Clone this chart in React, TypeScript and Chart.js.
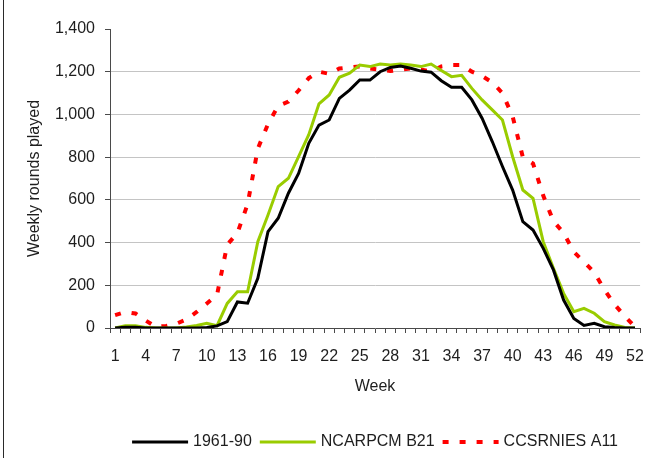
import React, { useEffect, useRef } from 'react';
import { Chart, registerables } from 'chart.js';

Chart.register(...registerables);

const weeks = [
  '1', '2', '3', '4', '5', '6', '7', '8', '9', '10', '11', '12', '13',
  '14', '15', '16', '17', '18', '19', '20', '21', '22', '23', '24', '25', '26',
  '27', '28', '29', '30', '31', '32', '33', '34', '35', '36', '37', '38', '39',
  '40', '41', '42', '43', '44', '45', '46', '47', '48', '49', '50', '51', '52',
];

const baseline1961 = [
  0, 3, 3, 0, 0, 0, 0, 0, 0, 2, 10, 30, 122,
  116, 233, 451, 514, 631, 724, 865, 950, 974, 1075, 1114, 1161, 1161,
  1200, 1220, 1227, 1216, 1203, 1198, 1158, 1127, 1127, 1068, 982, 873, 756,
  646, 498, 459, 373, 272, 131, 45, 12, 22, 6, 2, 0, 0,
];

const ncarpcmB21 = [
  0, 10, 10, 3, 0, 0, 0, 5, 12, 22, 11, 115, 170,
  170, 404, 529, 662, 701, 802, 905, 1050, 1091, 1174, 1193, 1231, 1224,
  1236, 1231, 1236, 1231, 1224, 1236, 1206, 1177, 1183, 1122, 1068, 1021, 974,
  802, 646, 607, 404, 280, 162, 76, 92, 69, 30, 14, 2, 0,
];

const ccsrniesA11 = [
  60, 75, 68, 35, 5, 10, 20, 40, 75, 115, 155, 390, 445,
  580, 840, 955, 1040, 1060, 1112, 1170, 1200, 1190, 1215, 1220, 1225, 1215,
  1210, 1203, 1210, 1216, 1210, 1200, 1225, 1231, 1231, 1200, 1180, 1150, 1100,
  990, 800, 770, 620, 500, 445, 356, 310, 260, 180, 110, 55, 5,
];

const seriesLabels = ['1961-90', 'NCARPCM B21', 'CCSRNIES A11'];

const Y_MIN = 0;
const Y_MAX = 1400;
const Y_STEP = 200;
const LABEL_EVERY = 3;

const FONT_FAMILY = "'Liberation Sans', Arial, sans-serif";
const FONT_SIZE = 16;
const TEXT = '#1e1e1e';
const AXIS = '#4a4a4a';
const GRID = '#c4c4c4';

const legendPlugin = {
  id: 'customLegend',
  afterDraw(chart: any) {
    const ctx = chart.ctx as CanvasRenderingContext2D;
    const area = chart.chartArea;
    ctx.save();
    ctx.font = `${FONT_SIZE}px ${FONT_FAMILY}`;
    const sample = 56;
    const gap = 5;
    const itemGap = 8;
    const items = chart.data.datasets.map((ds: any) => ({
      label: ds.label as string,
      color: ds.borderColor as string,
      width: ds.borderWidth as number,
      dash: (ds.borderDash || []) as number[],
      textW: ctx.measureText(ds.label).width,
    }));
    const total =
      items.reduce((s: number, it: any) => s + sample + gap + it.textW, 0) +
      itemGap * (items.length - 1);
    let x = (area.left + area.right) / 2 - total / 2;
    const y = 442;
    for (const it of items) {
      ctx.beginPath();
      ctx.setLineDash(it.dash);
      ctx.lineDashOffset = 0;
      ctx.lineCap = 'butt';
      ctx.strokeStyle = it.color;
      ctx.lineWidth = it.width;
      ctx.moveTo(x, y);
      ctx.lineTo(x + sample, y);
      ctx.stroke();
      ctx.setLineDash([]);
      ctx.fillStyle = TEXT;
      ctx.textAlign = 'left';
      ctx.textBaseline = 'middle';
      ctx.fillText(it.label, x + sample + gap, y);
      x += sample + gap + it.textW + itemGap;
    }
    ctx.restore();
  },
};

export default function App() {
  const canvasRef = useRef<HTMLCanvasElement | null>(null);

  useEffect(() => {
    if (!canvasRef.current) return;
    const font = { family: FONT_FAMILY, size: FONT_SIZE };
    const chart = new Chart(canvasRef.current, {
      type: 'line',
      data: {
        labels: weeks,
        datasets: [
          {
            label: seriesLabels[0],
            data: baseline1961,
            borderColor: '#000000',
            borderWidth: 3,
            pointRadius: 0,
            fill: false,
            tension: 0,
          },
          {
            label: seriesLabels[1],
            data: ncarpcmB21,
            borderColor: '#99cc00',
            borderWidth: 3,
            pointRadius: 0,
            fill: false,
            tension: 0,
          },
          {
            label: seriesLabels[2],
            data: ccsrniesA11,
            borderColor: '#ff0000',
            borderWidth: 4,
            borderDash: [6, 11],
            pointRadius: 0,
            fill: false,
            tension: 0,
          },
        ],
      },
      options: {
        responsive: false,
        maintainAspectRatio: false,
        animation: false,
        devicePixelRatio: 1,
        layout: { padding: { left: 0, right: 12.5, top: 29, bottom: 0 } },
        plugins: {
          legend: { display: false },
          tooltip: { enabled: false },
        },
        scales: {
          x: {
            type: 'category',
            offset: true,
            afterFit: (s: any) => {
              s.height = 130;
            },
            grid: {
              offset: true,
              drawOnChartArea: false,
              drawTicks: true,
              tickLength: 5,
              color: AXIS,
              tickColor: AXIS,
            },
            border: { color: AXIS, width: 1 },
            ticks: {
              autoSkip: false,
              maxRotation: 0,
              minRotation: 0,
              padding: 14,
              color: TEXT,
              font,
              callback: (_v: any, i: number) => (i % LABEL_EVERY === 0 ? weeks[i] : ''),
            },
            title: {
              display: true,
              text: 'Week',
              color: TEXT,
              font,
              padding: { top: 0, bottom: 62 },
            },
          },
          y: {
            min: Y_MIN,
            max: Y_MAX,
            afterFit: (s: any) => {
              s.width = 110;
            },
            ticks: {
              stepSize: Y_STEP,
              padding: 10,
              color: TEXT,
              font,
              callback: (v: any) => Number(v).toLocaleString('en-US'),
            },
            grid: {
              color: (c: any) =>
                c.tick && (c.tick.value === Y_MIN || c.tick.value === Y_MAX)
                  ? 'rgba(0,0,0,0)'
                  : GRID,
              tickColor: AXIS,
              tickLength: 5,
              drawTicks: true,
            },
            border: { color: AXIS, width: 1 },
            title: {
              display: true,
              text: 'Weekly rounds played',
              color: TEXT,
              font,
              padding: { top: 25.4, bottom: 0 },
            },
          },
        },
      },
      plugins: [legendPlugin],
    });
    return () => chart.destroy();
  }, []);

  return (
    <div
      style={{
        position: 'fixed',
        left: 0,
        top: 0,
        width: 658,
        height: 458,
        background: '#ffffff',
      }}
    >
      <div
        style={{
          position: 'absolute',
          left: 3,
          top: 0,
          width: 1,
          height: 458,
          background: '#2a2a2a',
        }}
      />
      <canvas
        ref={canvasRef}
        width={658}
        height={458}
        style={{ position: 'absolute', left: 0, top: 0, width: 658, height: 458 }}
      />
    </div>
  );
}
